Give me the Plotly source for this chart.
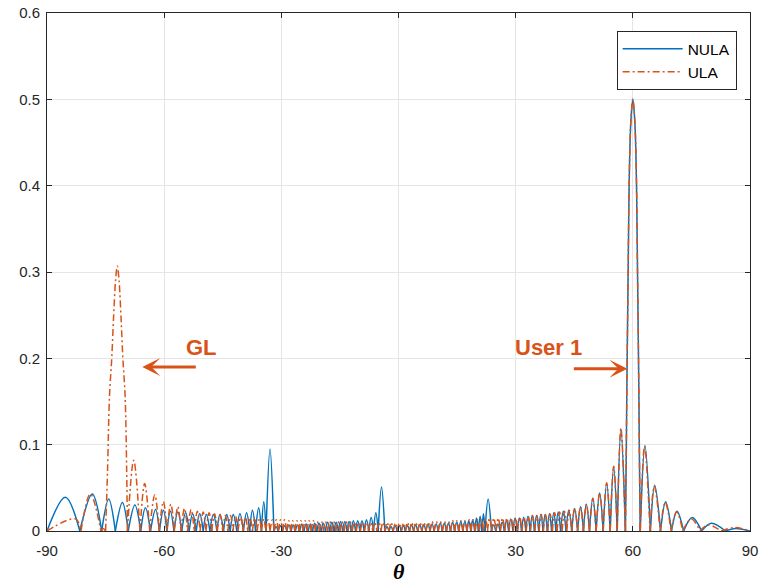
import plotly.graph_objects as go

# ---------------- data ----------------
# Each list alternates nulls (0) and lobe peaks; the main lobe / grating lobe
# are described by several points.

# NULA (blue)
nula_theta_a = [-90.0, -85.3, -81.6, -78.4, -76.0, -74.2, -72.5, -70.7, -69.2, -67.5, -66.0, -64.8, -63.5,
                -62.2, -61.2, -60.2, -59.3, -58.4, -57.5, -56.5, -55.5, -54.5, -53.6, -52.7, -51.8, -50.9,
                -50.0, -49.2, -48.3, -47.4, -46.5, -45.7, -44.8, -44.0, -43.1, -42.3, -41.4, -40.6, -39.7,
                -38.9, -38.1, -37.4, -36.6, -35.8, -35.1, -34.5, -33.9, -32.9, -31.9]
nula_amp_a = [0, .039, 0, .043, 0, .037, 0, .033, 0, .030, 0, .027, 0,
              .025, 0, .024, 0, .023, 0, .022, 0, .021, 0, .020, 0, .020,
              0, .019, 0, .019, 0, .019, 0, .019, 0, .019, 0, .020, 0,
              .021, 0, .024, 0, .027, 0, .034, 0, .095, 0]

nula_theta_b = [-31.35, -30.8, -30.25, -29.7, -29.15, -28.6, -28.05, -27.5, -26.95, -26.4, -25.85, -25.3,
                -24.75, -24.2, -23.65, -23.1, -22.55, -22.0, -21.45, -20.9, -20.35, -19.8, -19.25, -18.7,
                -18.15, -17.6, -17.05, -16.5, -15.95, -15.4, -14.85, -14.3, -13.75, -13.2, -12.65, -12.1,
                -11.55, -11.0, -10.45, -9.9, -9.35, -8.8, -8.2, -7.6, -7.0, -6.4, -5.8, -5.2, -4.35, -3.5]
nula_amp_b = [.005, 0, .006, 0, .006, 0, .007, 0, .007, 0, .007, 0,
              .008, 0, .008, 0, .008, 0, .009, 0, .009, 0, .009, 0,
              .010, 0, .010, 0, .010, 0, .011, 0, .011, 0, .011, 0,
              .012, 0, .012, 0, .012, 0, .013, 0, .016, 0, .021, 0, .051, 0]

nula_theta_c = [-2.95, -2.45, -1.9, -1.4, -0.85, -0.35, 0.2, 0.7, 1.25, 1.75, 2.3, 2.8, 3.35, 3.85, 4.4, 4.9,
                5.45, 5.95, 6.5, 7.0, 7.55, 8.05, 8.6, 9.1, 9.65, 10.15, 10.7, 11.2, 11.75, 12.25, 12.8, 13.3,
                13.85, 14.35, 14.9, 15.4, 15.95, 16.45, 17.0, 17.5, 18.0, 18.5, 19.0, 19.5, 19.97, 20.45,
                20.9, 21.35, 21.75, 22.15, 22.95, 23.8]
nula_amp_c = [.005, 0, .005, 0, .006, 0, .006, 0, .006, 0, .006, 0, .007, 0, .007, 0,
              .007, 0, .007, 0, .008, 0, .008, 0, .008, 0, .009, 0, .009, 0, .009, 0,
              .010, 0, .010, 0, .011, 0, .011, 0, .012, 0, .013, 0, .015, 0,
              .017, 0, .020, 0, .037, 0]

nula_theta_d = [24.35, 24.9, 25.45, 26.0, 26.55, 27.1, 27.65, 28.2, 28.75, 29.3, 29.85, 30.4, 30.95, 31.5,
                32.05, 32.6, 33.15, 33.7, 34.25, 34.8, 35.35, 35.9, 36.45, 37.0, 37.55, 38.1, 38.65, 39.2,
                39.75, 40.3, 40.9, 41.5, 42.2, 42.9, 43.6, 44.35, 45.1, 45.85, 46.6, 47.35, 48.1, 48.9,
                49.75, 50.6, 51.5, 52.4, 53.3, 54.2, 55.1, 56.0, 56.95, 58.1]
nula_amp_d = [.007, 0, .008, 0, .010, 0, .012, 0, .014, 0, .015, 0, .015, 0,
              .016, 0, .017, 0, .018, 0, .018, 0, .019, 0, .019, 0, .020, 0,
              .021, 0, .022, 0, .023, 0, .024, 0, .026, 0, .028, 0, .031, 0,
              .038, 0, .044, 0, .055, 0, .074, 0, .118, 0]

# main lobe towards User 1 (shared by both arrays)
main_lobe_theta = [58.3, 58.45, 58.55, 58.8, 59.05, 59.5, 60.0, 60.5, 60.95, 61.2, 61.45, 61.55, 61.7, 61.9]
main_lobe_amp = [.08, .156, .2, .3, .4, .475, .5, .475, .4, .3, .2, .156, .08, 0]

nula_theta_f = [63.1, 64.5, 65.6, 67.1, 68.4, 69.9, 71.3, 73.0, 75.2, 77.6, 80.1, 83.7, 86.3, 90.0]
nula_amp_f = [.099, 0, .053, 0, .034, 0, .023, 0, .0155, 0, .009, 0, .003, 0]

# ULA (orange) -- includes the grating lobe (GL)
ula_theta_a = [-90.0, -82.7, -81.3, -78.9, -76.2, -75.6, -75.0, -74.5, -74.0, -73.4, -72.95, -72.45,
               -72.0, -71.55, -71.05, -70.6, -70.0, -69.6, -69.4]
ula_amp_a = [0, .014, 0, .043, 0, .003, 0, .07, .156, .202, .248, .29,
             .307, .29, .248, .202, .156, .07, 0]

ula_theta_b = [-67.8, -66.2, -65.0, -63.7, -62.4, -61.3, -60.2, -59.3, -58.3, -57.4, -56.5, -55.7,
               -54.8, -54.0, -53.1, -52.3, -51.5, -50.8, -50.0, -49.3, -48.5, -47.8, -47.1, -46.4,
               -45.7, -45.0, -44.3, -43.7, -43.0, -42.4, -41.7, -41.1, -40.4, -39.8, -39.2, -38.6,
               -38.0, -37.4, -36.8, -36.2, -35.6, -35.1, -34.5, -34.0, -33.4, -32.9, -32.3, -31.8]
ula_amp_b = [.082, 0, .055, 0, .042, 0, .034, 0, .031, 0, .028, 0,
             .026, 0, .025, 0, .023, 0, .022, 0, .021, 0, .020, 0,
             .019, 0, .018, 0, .018, 0, .017, 0, .016, 0, .016, 0,
             .015, 0, .015, 0, .014, 0, .014, 0, .013, 0, .013, 0]

ula_theta_c = [-31.3, -30.75, -30.2, -29.7, -29.2, -28.65, -28.1, -27.6, -27.1, -26.55, -26.0, -25.5,
               -25.0, -24.45, -23.9, -23.4, -22.9, -22.35, -21.8, -21.3, -20.8, -20.25, -19.7, -19.2,
               -18.7, -18.15, -17.6, -17.1, -16.6, -16.05, -15.5, -15.0, -14.5, -13.95, -13.4, -12.9,
               -12.4, -11.85, -11.3, -10.8, -10.3, -9.75, -9.2, -8.7, -8.2, -7.65, -7.1, -6.6,
               -6.1, -5.55, -5.0, -4.5, -4.0, -3.45, -2.9, -2.4, -1.9, -1.35, -0.8, -0.3,
               0.2, 0.75, 1.3, 1.8, 2.3, 2.85, 3.4, 3.9, 4.4, 4.95, 5.5, 6.0,
               6.5, 7.05, 7.6, 8.1, 8.6, 9.15, 9.7, 10.2, 10.7, 11.25, 11.8, 12.3,
               12.8, 13.35, 13.9, 14.4, 14.9, 15.45, 16.0, 16.5, 17.0, 17.55, 18.1, 18.6,
               19.1, 19.65, 20.2, 20.7, 21.2, 21.75, 22.3, 22.8, 23.3, 23.85]
ula_amp_c = [.013, 0, .013, 0, .013, 0, .012, 0, .012, 0, .012, 0,
             .012, 0, .012, 0, .012, 0, .012, 0, .011, 0, .011, 0,
             .011, 0, .011, 0, .011, 0, .011, 0, .011, 0, .011, 0,
             .011, 0, .010, 0, .010, 0, .010, 0, .010, 0, .010, 0,
             .010, 0, .010, 0, .010, 0, .010, 0, .010, 0, .009, 0,
             .009, 0, .009, 0, .010, 0, .010, 0, .010, 0, .010, 0,
             .010, 0, .010, 0, .011, 0, .011, 0, .011, 0, .011, 0,
             .011, 0, .012, 0, .012, 0, .012, 0, .012, 0, .013, 0,
             .013, 0, .013, 0, .014, 0, .014, 0, .015, 0]

ula_theta_d = [24.4, 25.0, 25.55, 26.1, 26.65, 27.2, 27.75, 28.3, 28.85, 29.4, 29.95, 30.5, 31.05, 31.6,
               32.15, 32.7, 33.25, 33.8, 34.35, 34.9, 35.45, 36.0, 36.55, 37.1, 37.65, 38.2, 38.8, 39.4,
               40.0, 40.6, 41.25, 41.9, 42.5, 43.1, 43.7, 44.35, 45.1, 45.85, 46.6, 47.35, 48.1, 48.9,
               49.75, 50.6, 51.5, 52.4, 53.3, 54.2, 55.1, 56.0, 56.95, 58.1]
ula_amp_d = [.015, 0, .015, 0, .015, 0, .015, 0, .015, 0, .015, 0, .016, 0,
             .016, 0, .017, 0, .018, 0, .018, 0, .019, 0, .019, 0, .020, 0,
             .021, 0, .022, 0, .023, 0, .024, 0, .026, 0, .028, 0, .031, 0,
             .038, 0, .044, 0, .056, 0, .075, 0, .119, 0]

ula_theta_f = [63.0, 64.4, 65.5, 67.0, 68.3, 69.8, 71.2, 72.8, 75.0, 77.2, 79.3, 82.6, 86.0, 90.0]
ula_amp_f = [.098, 0, .052, 0, .033, 0, .022, 0, .014, 0, .007, 0, .004, 0]

x_tick_vals = [-90, -60, -30, 0, 30, 60, 90]
x_tick_text = ["-90", "-60", "-30", "0", "30", "60", "90"]
y_tick_vals = [0, 0.1, 0.2, 0.3, 0.4, 0.5, 0.6]
y_tick_text = ["0", "0.1", "0.2", "0.3", "0.4", "0.5", "0.6"]

series_names = ["NULA", "ULA"]
series_colors = ["#0072BD", "#D95319"]


def lobes(thetas, amps):
    """Split the point list into one smooth segment per lobe (break at nulls)."""
    assert len(thetas) == len(amps)
    xs, ys = [], []
    for t, a in zip(thetas, amps):
        xs.append(t)
        ys.append(a)
        if a == 0 and len(xs) > 1:
            xs.append(None)
            ys.append(None)
            xs.append(t)
            ys.append(a)
    return xs, ys


nula_t = nula_theta_a + nula_theta_b + nula_theta_c + nula_theta_d + main_lobe_theta + nula_theta_f
nula_a = nula_amp_a + nula_amp_b + nula_amp_c + nula_amp_d + main_lobe_amp + nula_amp_f
ula_t = ula_theta_a + ula_theta_b + ula_theta_c + ula_theta_d + main_lobe_theta + ula_theta_f
ula_a = ula_amp_a + ula_amp_b + ula_amp_c + ula_amp_d + main_lobe_amp + ula_amp_f

fig = go.Figure()
for (t, a), name, col, dash in [((nula_t, nula_a), series_names[0], series_colors[0], "solid"),
                                ((ula_t, ula_a), series_names[1], series_colors[1], "7px,3px,2px,3px")]:
    xs, ys = lobes(t, a)
    fig.add_trace(go.Scatter(x=xs, y=ys, mode="lines", name=name, connectgaps=False,
                             line=dict(color=col, width=1.5, shape="spline", smoothing=1, dash=dash,
                                       simplify=False)))

ann_font = dict(family="Liberation Sans, Arial, sans-serif", size=22, color="#D95319")
fig.add_annotation(x=-50.4, y=0.212, text="<b>GL</b>", showarrow=False, font=ann_font)
fig.add_annotation(x=-65.6, y=0.19, ax=55, ay=0, text="", showarrow=True, arrowhead=3,
                   arrowsize=1.0, arrowwidth=3, arrowcolor="#D95319")
fig.add_annotation(x=38.4, y=0.213, text="<b>User 1</b>", showarrow=False, font=ann_font)
fig.add_annotation(x=58.6, y=0.188, ax=-55, ay=0, text="", showarrow=True, arrowhead=3,
                   arrowsize=1.0, arrowwidth=3, arrowcolor="#D95319")
fig.add_annotation(xref="paper", yref="paper", x=0.5, y=-0.079, yanchor="middle",
                   text="<b><i>θ</i></b>", showarrow=False,
                   font=dict(family="Liberation Serif, DejaVu Serif, serif", size=22, color="#000000"))

axis_common = dict(showline=True, linecolor="#262626", linewidth=1, mirror="ticks",
                   ticks="inside", ticklen=5, tickwidth=1, tickcolor="#262626",
                   showgrid=True, gridcolor="#e5e5e5", gridwidth=1, zeroline=False, automargin=False,
                   tickfont=dict(family="Liberation Sans, Arial, sans-serif", size=15, color="#262626"))

fig.update_layout(
    width=761, height=586,
    margin=dict(l=47, r=11, t=13, b=55, autoexpand=False),
    paper_bgcolor="white", plot_bgcolor="white",
    xaxis=dict(range=[-90, 90], tickmode="array", tickvals=x_tick_vals, ticktext=x_tick_text,
               ticklabelstandoff=6, **axis_common),
    yaxis=dict(range=[0, 0.6], tickmode="array", tickvals=y_tick_vals, ticktext=y_tick_text,
               ticklabelstandoff=3, **axis_common),
    legend=dict(x=0.981, xanchor="right", y=0.965, yanchor="top", bgcolor="white",
                bordercolor="#262626", borderwidth=1, itemwidth=60, tracegroupgap=0,
                font=dict(family="Liberation Sans, Arial, sans-serif", size=15.5, color="#000000")),
    showlegend=True,
)

fig.write_html("out.html")
